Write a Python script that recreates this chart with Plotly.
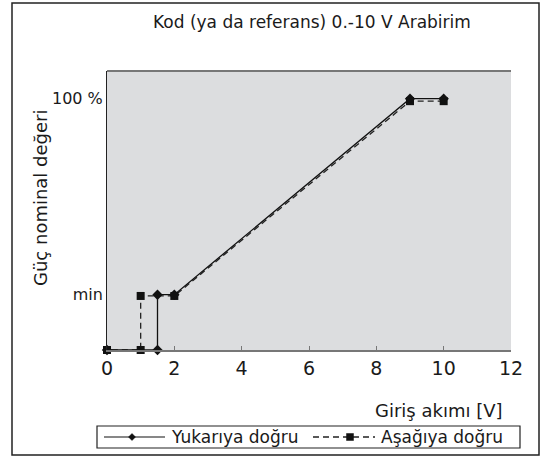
import plotly.graph_objects as go

# Input voltage [V] and nominal power value [%] for both directions
x_up = [0, 1.5, 1.5, 2, 9, 10]
y_up = [0, 0, 22, 22, 100, 100]
x_down = [10, 9, 2, 1, 1, 0]
y_down = [99, 99, 21.5, 21.5, 0, 0]

x_ticks = [0, 2, 4, 6, 8, 10, 12]
y_tickvals = [22, 100]
y_ticktext = ["min", "100 %"]

series_names = ["Yukarıya doğru", "Aşağıya doğru"]

FONT = "DejaVu Sans, Open Sans, sans-serif"
W, H = 542, 457


def px(x):
    """Horizontal pixel -> paper fraction."""
    return x / W


def py(y):
    """Vertical pixel (from top) -> paper fraction."""
    return 1 - y / H


fig = go.Figure()
fig.add_trace(go.Scatter(
    x=x_down, y=y_down, mode="lines+markers", name=series_names[1],
    line=dict(color="#222222", width=1.3, dash="6px,4px"),
    marker=dict(symbol="square", size=8, color="#111111"),
    cliponaxis=False, showlegend=False,
))
fig.add_trace(go.Scatter(
    x=x_up, y=y_up, mode="lines+markers", name=series_names[0],
    line=dict(color="#111111", width=1.3),
    marker=dict(symbol="diamond", size=8, color="#111111"),
    cliponaxis=False, showlegend=False,
))

# plot area in pixels
L, R, T, B = 107, 511, 71, 350

# legend box geometry (pixels)
LEG_Y = 437
leg_shapes = [
    dict(type="rect", xref="paper", yref="paper",
         x0=px(97), x1=px(520), y0=py(448), y1=py(426),
         line=dict(color="#222222", width=1.2), fillcolor="white"),
    dict(type="line", xref="paper", yref="paper",
         x0=px(104), x1=px(165), y0=py(LEG_Y), y1=py(LEG_Y),
         line=dict(color="#111111", width=1.2)),
    dict(type="path", xref="paper", yref="paper",
         path=(f"M {px(132)},{py(LEG_Y - 3.5)} L {px(135.5)},{py(LEG_Y)} "
               f"L {px(132)},{py(LEG_Y + 3.5)} L {px(128.5)},{py(LEG_Y)} Z"),
         line=dict(color="#111111", width=0.5), fillcolor="#111111"),
    dict(type="line", xref="paper", yref="paper",
         x0=px(313), x1=px(375), y0=py(LEG_Y), y1=py(LEG_Y),
         line=dict(color="#222222", width=1.3, dash="6px,4px")),
    dict(type="rect", xref="paper", yref="paper",
         x0=px(346.5), x1=px(353.5), y0=py(LEG_Y + 3.5), y1=py(LEG_Y - 3.5),
         line=dict(color="#111111", width=0.5), fillcolor="#111111"),
]

fig.update_layout(
    width=W, height=H,
    margin=dict(l=0, r=0, t=0, b=0, autoexpand=False),
    paper_bgcolor="white",
    plot_bgcolor="#dcdddf",
    font=dict(family=FONT, color="#1a1a1a", size=16),
    showlegend=False,
    xaxis=dict(
        domain=[px(L), px(R)],
        range=[0, 12], tickvals=x_ticks, showgrid=False, zeroline=False,
        showline=True, linecolor="#777777", linewidth=2,
        ticks="inside", ticklen=4, tickcolor="#777777",
        tickfont=dict(size=19), automargin=False,
    ),
    yaxis=dict(
        domain=[py(B), py(T)],
        range=[0, 111], tickvals=y_tickvals, ticktext=y_ticktext,
        showgrid=False, zeroline=False, showline=True,
        linecolor="#222222", linewidth=1, ticks="", tickfont=dict(size=16),
        automargin=False,
    ),
    shapes=[
        # top border of the plotting area
        dict(type="line", xref="paper", yref="paper",
             x0=px(L), x1=px(R), y0=py(T), y1=py(T),
             line=dict(color="#777777", width=2)),
        # frame around the whole figure
        dict(type="rect", xref="paper", yref="paper",
             x0=px(12), x1=px(539), y0=py(455), y1=py(3),
             line=dict(color="#222222", width=1.5)),
    ] + leg_shapes,
    annotations=[
        dict(text="Kod (ya da referans) 0.-10 V Arabirim", xref="paper", yref="paper",
             x=px(312), y=py(22), showarrow=False,
             xanchor="center", yanchor="middle", font=dict(size=17)),
        dict(text="Güç nominal değeri", xref="paper", yref="paper",
             x=px(40), y=py(198), showarrow=False, textangle=-90,
             xanchor="center", yanchor="middle", font=dict(size=18)),
        dict(text="Giriş akımı [V]", xref="paper", yref="paper",
             x=px(505), y=py(410), showarrow=False,
             xanchor="right", yanchor="middle", font=dict(size=18)),
        dict(text=series_names[0], xref="paper", yref="paper",
             x=px(169), y=py(LEG_Y), showarrow=False,
             xanchor="left", yanchor="middle", font=dict(size=17)),
        dict(text=series_names[1], xref="paper", yref="paper",
             x=px(379), y=py(LEG_Y), showarrow=False,
             xanchor="left", yanchor="middle", font=dict(size=17)),
    ],
)

fig.write_html("out.html")
